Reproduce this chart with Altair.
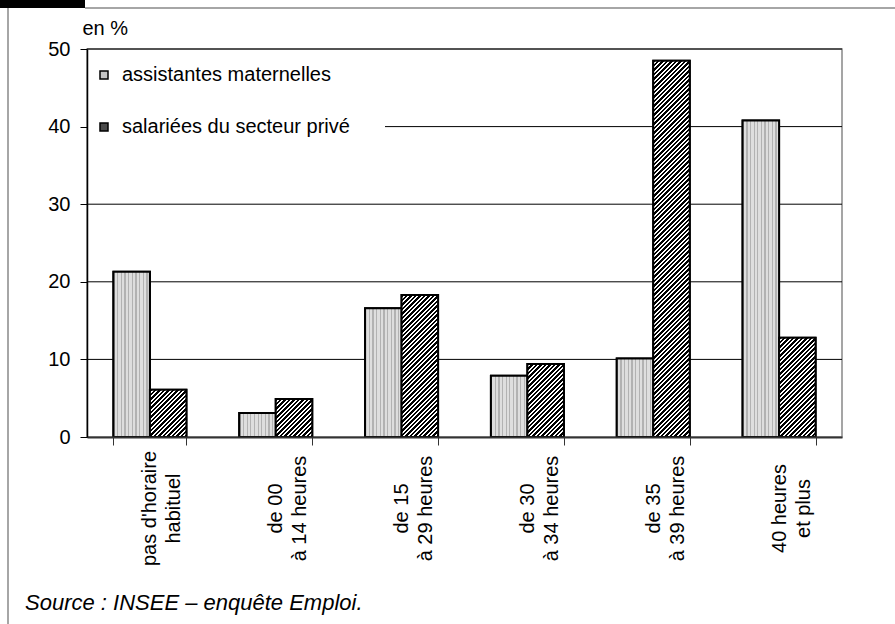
import altair as alt
import pandas as pd

# Weekly working hours: childminders vs. private-sector female employees
CATEGORIES = [
    "pas d'horaire|habituel",
    "de 00|à 14 heures",
    "de 15|à 29 heures",
    "de 30|à 34 heures",
    "de 35|à 39 heures",
    "40 heures|et plus",
]
SERIES = ["assistantes maternelles", "salariées du secteur privé"]
ASSISTANTES = [21.3, 3.1, 16.6, 7.9, 10.1, 40.8]
SALARIEES = [6.1, 4.9, 18.3, 9.4, 48.5, 12.8]
Y_TICKS = [0, 10, 20, 30, 40, 50]
Y_UNIT = "en %"
SOURCE = "Source : INSEE – enquête Emploi."

FONT = "Liberation Sans"
W, H = 755, 388
Y_MAX = 50
PAD_INNER = 0.42
LEGEND_RIGHT = 298  # gridlines crossing the legend start here

rows = []
for cat, a, s in zip(CATEGORIES, ASSISTANTES, SALARIEES):
    rows.append({"cat": cat, "serie": SERIES[0], "val": a})
    rows.append({"cat": cat, "serie": SERIES[1], "val": s})
df = pd.DataFrame(rows)
grid_df = pd.DataFrame({"val": Y_TICKS[1:]})

# bar geometry (paddingOuter = paddingInner / 2 -> step = W / n)
step = W / len(CATEGORIES)
bar_w = step * (1 - PAD_INNER) / 2


def stipple_fill():
    """Fine vertical dotted stripes, same for every light bar."""
    n = 10
    dark, light = "#b2b2b2", "#dedede"
    stops = []
    for k in range(n):
        a, b, c = k / n, (k + 0.35) / n, (k + 1) / n
        stops += [
            {"offset": a, "color": dark},
            {"offset": b, "color": dark},
            {"offset": b, "color": light},
            {"offset": c, "color": light},
        ]
    return {"gradient": "linear", "x1": 0, "y1": 0, "x2": 1, "y2": 0, "stops": stops}


def hatch_fill(value, period=4.5, ink=0.55):
    """Diagonal '/' hatching for a bar of the given value."""
    h = value * H / Y_MAX
    length = bar_w + h * h / bar_w
    span = bar_w + h
    stops = []
    k = 0
    while k * period <= span + period:
        a = min(k * period / length, 1)
        b = min((k + ink) * period / length, 1)
        c = min((k + 1) * period / length, 1)
        stops += [
            {"offset": a, "color": "#000000"},
            {"offset": b, "color": "#000000"},
            {"offset": b, "color": "#ffffff"},
            {"offset": c, "color": "#ffffff"},
        ]
        k += 1
    return {"gradient": "linear", "x1": 0, "y1": 0, "x2": 1, "y2": h / bar_w, "stops": stops}


x_enc = alt.X(
    "cat:N",
    sort=CATEGORIES,
    scale=alt.Scale(domain=CATEGORIES, paddingInner=PAD_INNER, paddingOuter=PAD_INNER / 2),
    axis=alt.Axis(
        title=None,
        labelExpr="split(datum.label, '|')",
        labelAngle=-90,
        labelAlign="center",
        labelBaseline="middle",
        labelPadding=63,
        labelFontSize=20,
        labelLineHeight=24,
        labelFont=FONT,
        labelColor="#000",
        labelLimit=300,
        tickBand="extent",
        tickSize=8,
        tickColor="#333",
        domainColor="#333",
        domainWidth=2,
        grid=False,
        zindex=1,
    ),
)
xoff_enc = alt.XOffset(
    "serie:N", sort=SERIES, scale=alt.Scale(domain=SERIES, paddingInner=0, paddingOuter=0)
)
y_scale = alt.Scale(domain=[0, Y_MAX], nice=False)
y_enc = alt.Y(
    "val:Q",
    scale=y_scale,
    axis=alt.Axis(
        values=Y_TICKS,
        title=Y_UNIT,
        titleAngle=0,
        titleAlign="left",
        titleBaseline="alphabetic",
        titleX=-5,
        titleY=-15,
        titleFontSize=20,
        titleFontWeight="normal",
        titleFont=FONT,
        titleColor="#000",
        labelFontSize=20,
        labelFont=FONT,
        labelColor="#000",
        labelPadding=10,
        tickSize=7,
        tickColor="#000",
        domainColor="#000",
        domainWidth=1.5,
        grid=False,
        zindex=2,
    ),
)

# horizontal gridlines; the one at 40 stops short of the legend
grid_full = (
    alt.Chart(grid_df)
    .transform_filter("datum.val != 40")
    .mark_rule(color="#000", strokeWidth=1)
    .encode(y=alt.Y("val:Q", scale=y_scale), x=alt.value(0), x2=alt.value(W))
)
grid_short = (
    alt.Chart(grid_df)
    .transform_filter("datum.val == 40")
    .mark_rule(color="#000", strokeWidth=1)
    .encode(y=alt.Y("val:Q", scale=y_scale), x=alt.value(LEGEND_RIGHT), x2=alt.value(W))
)

base = alt.Chart(df).mark_bar(stroke="#000", strokeWidth=2).encode(
    x=x_enc,
    xOffset=xoff_enc,
    y=y_enc,
    fill=alt.Fill(
        "serie:N",
        scale=alt.Scale(domain=SERIES, range=["#c4c4c4", "#4a4a4a"]),
        legend=alt.Legend(
            title=None,
            orient="none",
            legendX=-5,
            legendY=4,
            padding=12,
            rowPadding=32,
            fillColor="transparent",
            strokeColor="transparent",
            zindex=0,
            symbolType="square",
            symbolSize=64,
            symbolStrokeColor="#000",
            symbolStrokeWidth=1.5,
            labelFontSize=20,
            labelFont=FONT,
            labelColor="#000",
            labelOffset=8,
            labelLimit=400,
        ),
    ),
)

# light bars: stippled overlay
layers = [grid_full, grid_short, base]
layers.append(
    alt.Chart(df)
    .transform_filter(alt.FieldEqualPredicate(field="serie", equal=SERIES[0]))
    .mark_bar(fill=stipple_fill(), stroke="#000", strokeWidth=2)
    .encode(x=x_enc, xOffset=xoff_enc, y=y_enc)
)
# dark bars: hatched overlay, one per bar so the hatch angle stays at 45 degrees
for cat, v in zip(CATEGORIES, SALARIEES):
    layers.append(
        alt.Chart(df)
        .transform_filter(alt.FieldEqualPredicate(field="serie", equal=SERIES[1]))
        .transform_filter(alt.FieldEqualPredicate(field="cat", equal=cat))
        .mark_bar(fill=hatch_fill(v), stroke="#000", strokeWidth=2)
        .encode(x=x_enc, xOffset=xoff_enc, y=y_enc)
    )

# page frame and caption
one = alt.Data(values=[{"t": SOURCE}])
frame_top = alt.Chart(one).mark_rule(color="#888", strokeWidth=1.5).encode(
    x=alt.value(-2), x2=alt.value(810), y=alt.value(-41)
)
frame_left = alt.Chart(one).mark_rule(color="#888", strokeWidth=1.5).encode(
    x=alt.value(-79), y=alt.value(-41), y2=alt.value(580)
)
tab = alt.Chart(one).mark_rect(color="#000").encode(
    x=alt.value(-87), x2=alt.value(-2), y=alt.value(-49), y2=alt.value(-41)
)
caption = alt.Chart(one).mark_text(
    align="left", baseline="alphabetic", fontStyle="italic", fontSize=22, font=FONT, color="#000"
).encode(x=alt.value(-62), y=alt.value(561), text="t:N")

chart = (
    alt.layer(*layers, tab, caption, frame_top, frame_left)
    .properties(
        width=W,
        height=H,
        autosize=alt.AutoSizeParams(type="none"),
        padding={"left": 87, "top": 49, "right": 53, "bottom": 187},
        background="#ffffff",
    )
    .configure_view(stroke="#888", strokeWidth=1.5)
)

chart.save("out.html", embed_options={"renderer": "svg", "actions": False})
